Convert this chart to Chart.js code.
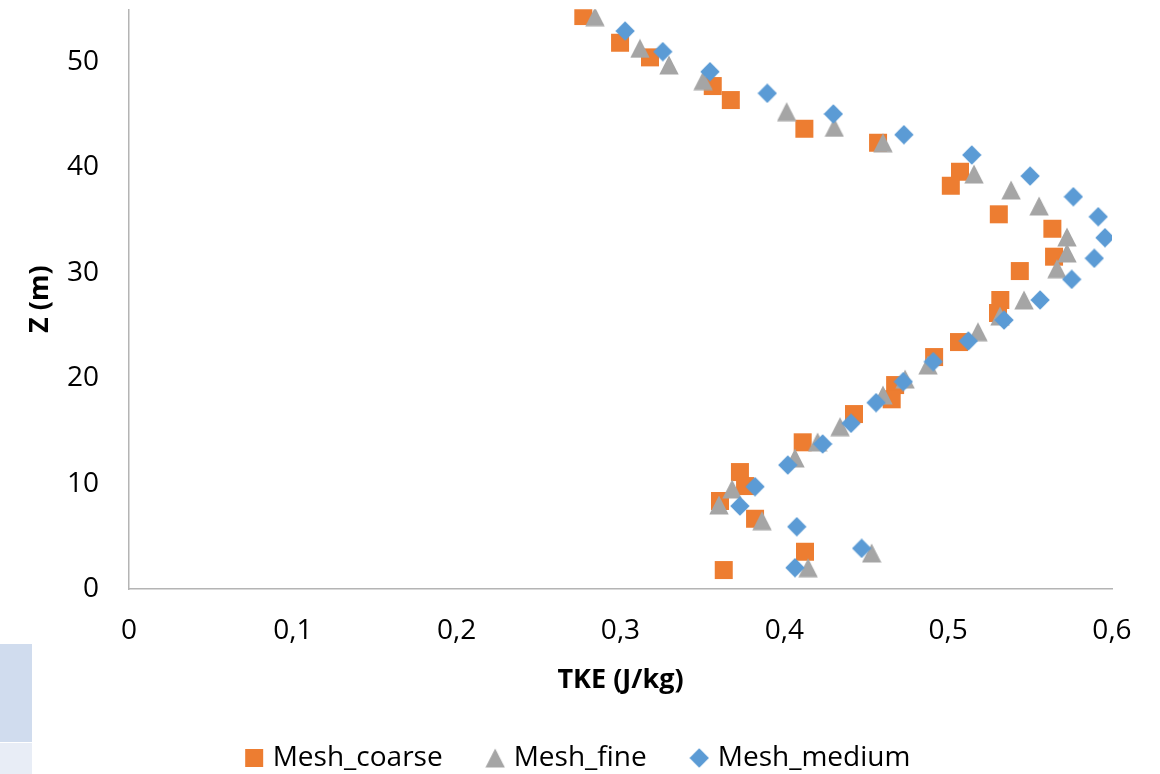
<!DOCTYPE html>
<html>
<head>
<meta charset="utf-8">
<script src="https://cdn.jsdelivr.net/npm/chart.js@4.4.1/dist/chart.umd.min.js"></script>
<style>
  html, body { margin: 0; padding: 0; background: #fff; }
  #wrap { position: relative; width: 1160px; height: 774px; }
  #wrap canvas { position: absolute; left: 0; top: 0; }
  .tab1 { position: absolute; left: 0; top: 644px; width: 32px; height: 98px; background: #d0dcee; }
  .tab2 { position: absolute; left: 0; top: 743px; width: 32px; height: 31px; background: #e8edf6; }
</style>
</head>
<body>
<div id="wrap">
  <div class="tab1"></div>
  <div class="tab2"></div>
  <canvas id="chart" width="1160" height="774"></canvas>
</div>
<script>
// values: TKE (J/kg) against height z (m)
const coarseTke = [0.2773, 0.2997, 0.3180, 0.3563, 0.3673, 0.4122, 0.4572, 0.5072, 0.5016, 0.5309,
  0.5636, 0.5646, 0.5437, 0.5318, 0.5304, 0.5066, 0.4914, 0.4676, 0.4655, 0.4425,
  0.4112, 0.3729, 0.3760, 0.3607, 0.3821, 0.4126, 0.3630];
const coarseZ = [54.36, 51.83, 50.44, 47.72, 46.39, 43.67, 42.34, 39.59, 38.26, 35.55,
  34.18, 31.53, 30.17, 27.42, 26.19, 23.43, 22.01, 19.35, 18.0, 16.6,
  13.92, 11.1, 9.77, 8.35, 6.67, 3.54, 1.8];

const fineTke = [0.2844, 0.3119, 0.3296, 0.3504, 0.4014, 0.4305, 0.4602, 0.5158, 0.5384, 0.5555,
  0.5725, 0.5725, 0.5664, 0.5463, 0.5316, 0.5182, 0.4877, 0.4737, 0.4602, 0.4340,
  0.4203, 0.4065, 0.3681, 0.3601, 0.3864, 0.4533, 0.4145];
const fineZ = [54.3, 51.3, 49.72, 48.23, 45.29, 43.8, 42.34, 39.37, 37.86, 36.34,
  33.4, 31.88, 30.39, 27.42, 25.9, 24.41, 21.25, 19.92, 18.41, 15.4,
  13.95, 12.43, 9.49, 7.97, 6.48, 3.42, 2.02];

const mediumTke = [0.3028, 0.3258, 0.3546, 0.3896, 0.4299, 0.4730, 0.5144, 0.5500, 0.5764, 0.5916,
  0.5957, 0.5892, 0.5754, 0.5561, 0.5341, 0.5123, 0.4909, 0.4726, 0.4560, 0.4407,
  0.4234, 0.4021, 0.3821, 0.3729, 0.4076, 0.4472, 0.4065];
const mediumZ = [52.94, 50.98, 49.08, 47.03, 45.07, 43.1, 41.18, 39.18, 37.22, 35.32,
  33.33, 31.38, 29.38, 27.42, 25.52, 23.53, 21.57, 19.67, 17.68, 15.72,
  13.76, 11.76, 9.71, 7.87, 5.91, 3.86, 2.02];

const seriesNames = ['Mesh_coarse', 'Mesh_fine', 'Mesh_medium'];
const xTickLabels = ['0', '0,1', '0,2', '0,3', '0,4', '0,5', '0,6'];
const yTickLabels = ['0', '10', '20', '30', '40', '50'];

const ORANGE = '#ed7d31', GREY = '#a5a5a5', BLUE = '#5b9bd5';
const FONT = "'Open Sans', sans-serif";
const CHART_BOTTOM = 589;
const PAD_BOTTOM = -8;

// marker images, same shapes as the office markers
function marker(kind, color) {
  const c = document.createElement('canvas');
  c.width = 20; c.height = 20;
  const g = c.getContext('2d');
  g.fillStyle = color;
  g.beginPath();
  if (kind === 'square') {
    g.rect(1, 1, 18, 18);
  } else if (kind === 'triangle') {
    g.moveTo(10, 0.5); g.lineTo(19.7, 19.5); g.lineTo(0.3, 19.5);
  } else {
    g.moveTo(10, 0.3); g.lineTo(19.7, 10); g.lineTo(10, 19.7); g.lineTo(0.3, 10);
  }
  g.closePath();
  g.fill();
  return c;
}

function pts(xs, ys) {
  return xs.map((v, i) => ({x: v, y: ys[i]}));
}

const ds = (label, xs, ys, color, kind, order) => ({
  label: label,
  data: pts(xs, ys),
  pointStyle: marker(kind, color),
  backgroundColor: color,
  borderColor: color,
  showLine: false,
  order: order
});

Chart.defaults.font.family = FONT;
Chart.defaults.color = '#000';

new Chart(document.getElementById('chart'), {
  type: 'scatter',
  data: {
    datasets: [
      ds(seriesNames[0], coarseTke, coarseZ, ORANGE, 'square', 3),
      ds(seriesNames[1], fineTke, fineZ, GREY, 'triangle', 2),
      ds(seriesNames[2], mediumTke, mediumZ, BLUE, 'diamond', 1)
    ]
  },
  options: {
    responsive: false,
    animation: false,
    devicePixelRatio: 1,
    layout: { padding: { top: 9.3, right: 0, bottom: PAD_BOTTOM, left: 0 } },
    plugins: {
      tooltip: { enabled: false },
      legend: {
        position: 'bottom',
        labels: {
          usePointStyle: true,
          pointStyleWidth: 9,
          padding: 48,
          font: { size: 28 },
          color: '#000',
          sort: (a, b) => a.datasetIndex - b.datasetIndex
        }
      }
    },
    scales: {
      x: {
        type: 'linear',
        min: 0, max: 0.6,
        grid: { display: false, drawTicks: false },
        border: { display: true, color: '#b4b4b4', width: 1.5 },
        ticks: {
          stepSize: 0.1,
          padding: 25,
          font: { size: 28 },
          callback: (v, i) => xTickLabels[i]
        },
        title: {
          display: true,
          text: 'TKE (J/kg)',
          font: { size: 27, weight: 'bold', lineHeight: 1 },
          padding: { top: 0, bottom: 2.5 }
        },
        afterFit: (scale) => {
          const lg = scale.chart.legend;
          scale.height = scale.chart.height - CHART_BOTTOM - (lg ? lg.height : 0) - PAD_BOTTOM;
          scale.paddingLeft = 0;
          scale.paddingRight = 48;
        }
      },
      y: {
        type: 'linear',
        min: 0, max: 55,
        grid: { display: false, drawTicks: false },
        border: { display: true, color: '#b4b4b4', width: 1.5 },
        ticks: {
          stepSize: 10,
          padding: 30,
          font: { size: 28 },
          callback: (v, i) => yTickLabels[i]
        },
        afterBuildTicks: (scale) => {
          scale.ticks = scale.ticks.filter(t => t.value % 10 === 0);
        },
        title: {
          display: true,
          text: 'Z (m)',
          font: { size: 27, weight: 'bold', lineHeight: 1.2 },
          padding: { top: 24, bottom: 0 }
        },
        afterFit: (scale) => {
          scale.width = 129;
          scale.paddingTop = 0;
          scale.paddingBottom = 0;
        }
      }
    }
  }
});
</script>
</body>
</html>
